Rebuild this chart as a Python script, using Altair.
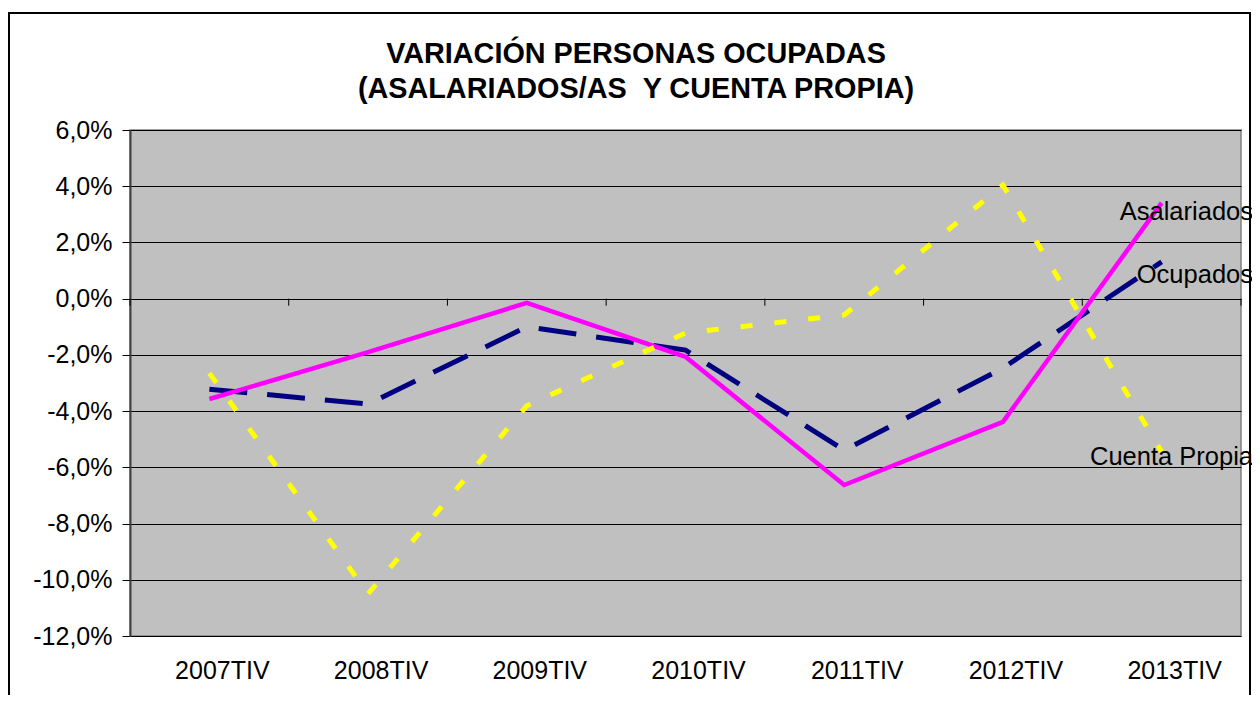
import altair as alt
import pandas as pd

categories = ["2007TIV", "2008TIV", "2009TIV", "2010TIV", "2011TIV", "2012TIV", "2013TIV"]
asalariados = [-3.57, -1.9, -0.15, -2.07, -6.63, -4.38, 3.41]
ocupados = [-3.22, -3.75, -1.0, -1.83, -5.39, -2.47, 1.31]
cuenta_propia = [-2.65, -10.5, -3.81, -1.22, -0.58, 4.04, -5.45]
y_ticks = [-12, -10, -8, -6, -4, -2, 0, 2, 4, 6]
title_lines = ["VARIACIÓN PERSONAS OCUPADAS", "(ASALARIADOS/AS \u00a0Y CUENTA PROPIA)"]

series = {"Ocupados": ocupados, "Asalariados": asalariados, "Cuenta Propia": cuenta_propia}

rows = []
for name, vals in series.items():
    for c, v in zip(categories, vals):
        rows.append({"cat": c, "serie": name, "valor": v})
df = pd.DataFrame(rows)
df_cat = pd.DataFrame({"cat": categories})

FONT = "Liberation Sans"
W, H = 1111, 506

x_scale = alt.Scale(type="band", paddingInner=0, paddingOuter=0)
y_axis = alt.Axis(title=None, values=y_ticks, labelExpr="datum.value + ',0%'", grid=True,
                  gridColor="black", gridWidth=1, domainColor="#404040", domainWidth=2,
                  tickColor="black", tickSize=8, tickWidth=1, labelFontSize=25, labelPadding=10,
                  labelFont=FONT, labelColor="black")
y_scale = alt.Scale(domain=[-12, 6], nice=False, zero=False)


def xenc(band=0.5):
    return alt.X("cat:N", sort=categories, scale=x_scale, bandPosition=band, axis=None)


def yenc(field="valor:Q"):
    return alt.Y(field, scale=y_scale, axis=y_axis)


base = alt.Chart(df)

# category labels below the plot
x_labels = alt.Chart(df_cat).mark_text(
    align="center", baseline="middle", dx=13, fontSize=25, font=FONT, color="black"
).encode(x=xenc(), y=alt.value(H + 35), text="cat:N")

# small tick marks on the zero line (category boundaries)
zero_ticks = alt.Chart(df_cat).mark_rule(color="black", strokeWidth=1).encode(
    x=xenc(0), y=alt.datum(0, scale=y_scale), y2=alt.datum(-0.25)
)
zero_end = alt.Chart(df_cat.tail(1)).mark_rule(color="black", strokeWidth=1).encode(
    x=xenc(1), y=alt.datum(0, scale=y_scale), y2=alt.datum(-0.25)
)

line_ocup = base.transform_filter(alt.datum.serie == "Ocupados").mark_line(
    color="#000080", strokeWidth=5, strokeDash=[38, 20], strokeCap="butt"
).encode(x=xenc(), y=yenc())

line_asal = base.transform_filter(alt.datum.serie == "Asalariados").mark_line(
    color="#FF00FF", strokeWidth=4.5
).encode(x=xenc(), y=yenc())

line_cp = base.transform_filter(alt.datum.serie == "Cuenta Propia").mark_line(
    color="#FFFF00", strokeWidth=5, strokeDash=[12, 22], strokeCap="butt"
).encode(x=xenc(), y=yenc())

label_dy = {"Asalariados": 9, "Ocupados": 13, "Cuenta Propia": 5}
labels = []
for name, dy in label_dy.items():
    labels.append(
        base.transform_filter((alt.datum.serie == name) & (alt.datum.cat == categories[-1]))
        .mark_text(align="right", baseline="middle", dx=12, dy=dy, fontSize=25.5, font=FONT, color="black")
        .encode(x=xenc(1), y=yenc(), text="serie:N")
    )

title_marks = []
for i, line in enumerate(title_lines):
    title_marks.append(
        alt.Chart(df_cat.head(1)).mark_text(
            align="center", baseline="alphabetic", fontSize=28.8, fontWeight="bold", font=FONT, color="black"
        ).encode(x=alt.value(506), y=alt.value(-67 + 35 * i), text=alt.value(line))
    )

frame = alt.Chart(df_cat.head(1)).mark_rect(fillOpacity=0, stroke="black", strokeWidth=2).encode(
    x=alt.value(-121), x2=alt.value(1120), y=alt.value(-117), y2=alt.value(700)
)

chart = alt.layer(zero_ticks, zero_end, line_ocup, line_asal, line_cp, *labels, x_labels,
                  *title_marks, frame).properties(
    width=W,
    height=H,
    autosize=alt.AutoSizeParams(type="none"),
    padding={"left": 122, "top": 122, "right": 11, "bottom": 59},
    background="white",
).configure_view(fill="#C0C0C0", stroke="#808080", strokeWidth=1.5)

chart.save("out.html", embed_options={"renderer": "svg", "actions": False})
